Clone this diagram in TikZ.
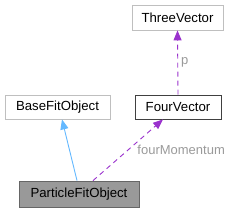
\documentclass[tikz,border=0pt]{standalone}
\usepackage{fontspec}
\setmainfont{Liberation Sans}
\usetikzlibrary{arrows.meta}

\definecolor{edgeblue}{HTML}{63B8FF}
\definecolor{edgepurple}{HTML}{9A32CD}
\definecolor{labelgray}{HTML}{9A9A9A}
\definecolor{boxgray}{HTML}{BFBFBF}
\definecolor{boxdark}{HTML}{404040}
\definecolor{boxfill}{HTML}{999999}

\tikzset{
  classbox/.style={draw=boxgray, line width=0.8pt, inner sep=0pt,
    minimum height=24pt, font=\fontsize{13.2}{15}\selectfont},
  usedbox/.style={classbox, draw=boxdark},
  selfbox/.style={classbox, draw=boxdark!80, fill=boxfill, minimum height=26pt},
  inherit/.style={draw=edgeblue, line width=0.9pt,
    -{Triangle[length=10pt, width=8pt]}},
  member/.style={draw=edgepurple, line width=0.9pt, dashed,
    dash pattern=on 5pt off 4pt,
    -{Triangle[length=10pt, width=8pt]}},
  memberlabel/.style={text=labelgray, inner sep=1pt,
    font=\fontsize{13}{15}\selectfont}
}

\begin{document}
\begin{tikzpicture}[x=1pt, y=1pt]

  \useasboundingbox (0,0) rectangle (231,-212);

  % --- classes ---
  \node[classbox, minimum width=91pt, minimum height=25pt] (three) at (177.5,-17.5) {ThreeVector};
  \node[classbox, minimum width=105pt] (base) at (57.5,-107) {BaseFitObject};
  \node[usedbox, minimum width=86pt] (four) at (178,-107) {FourVector};
  \node[selfbox, minimum width=120pt] (particle) at (79,-194) {ParticleFitObject};

  % --- inheritance ---
  \draw[inherit] ([xshift=-2pt]particle.north) -- ([xshift=4.5pt]base.south);

  % --- members ---
  \draw[member] ([xshift=14pt]particle.north) -- ([xshift=-15pt]four.south)
    node[memberlabel, pos=0.5, right=8pt] {fourMomentum};
  \draw[member] (four.north) -- (three.south)
    node[memberlabel, midway, right=2pt] {p};

\end{tikzpicture}
\end{document}
